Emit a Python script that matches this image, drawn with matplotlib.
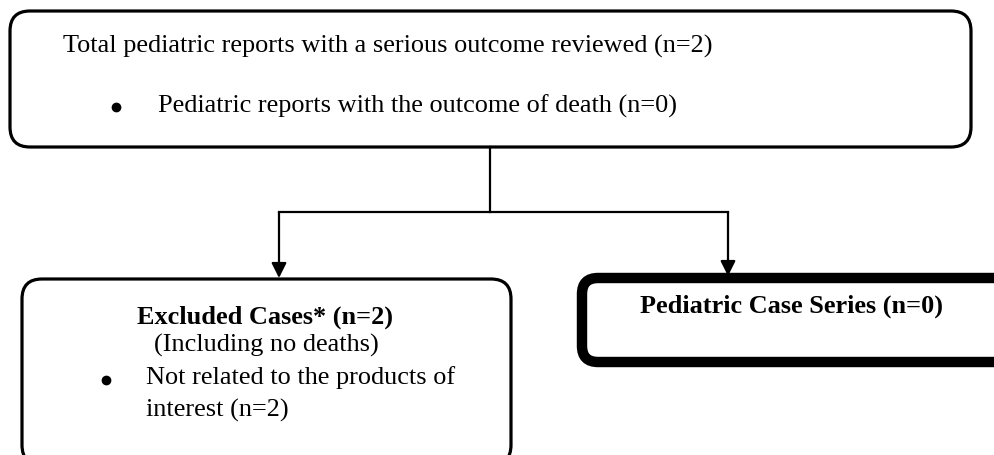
import matplotlib
matplotlib.use("Agg")
import matplotlib.pyplot as plt
from matplotlib.patches import FancyBboxPatch

# box texts
top_title = "Total pediatric reports with a serious outcome reviewed (n=2)"
top_bullet = "Pediatric reports with the outcome of death (n=0)"
excl_title = "Excluded Cases* (n=2)"
excl_sub = "(Including no deaths)"
excl_bullet = ["Not related to the products of", "interest (n=2)"]
series_title = "Pediatric Case Series (n=0)"

FONT = "Liberation Serif"
FS = 18.9

fig = plt.figure(figsize=(9.94, 4.55), dpi=100)
ax = fig.add_axes([0, 0, 1, 1])
ax.set_xlim(0, 994)
ax.set_ylim(455, 0)
ax.axis("off")


def rbox(x0, y0, x1, y1, lw, r=20):
    p = FancyBboxPatch((x0 + r, y0 + r), (x1 - x0) - 2 * r, (y1 - y0) - 2 * r,
                       boxstyle=f"round,pad={r}", fc="white", ec="black",
                       lw=lw, clip_on=False)
    ax.add_patch(p)


# boxes
rbox(10, 11, 971, 147, 2.3)
rbox(22, 279, 511, 465, 2.3)
rbox(582, 278, 1010, 362, 7.5, r=16)

# connector lines
ax.plot([490, 490], [147, 212], color="black", lw=1.6)
ax.plot([279, 728], [212, 212], color="black", lw=1.6, solid_capstyle="projecting")
for x, yend in [(279, 278), (728, 276)]:
    ax.annotate("", xy=(x, yend), xytext=(x, 212),
                arrowprops=dict(arrowstyle="-|>,head_length=0.9,head_width=0.45",
                                color="black", lw=1.6, shrinkA=0, shrinkB=0))

# bullets
for bx, by in [(116, 107), (106, 380)]:
    ax.plot(bx, by, "o", color="black", ms=6)

# top box text
ax.text(63, 46, top_title, family=FONT, fontsize=FS, va="center", ha="left")
ax.text(158, 106, top_bullet, family=FONT, fontsize=FS, va="center", ha="left")

# excluded box text
ax.text(265, 317, excl_title, family=FONT, fontsize=FS, weight="bold",
        va="center", ha="center")
ax.text(266, 345, excl_sub, family=FONT, fontsize=FS, va="center", ha="center")
ax.text(146, 378, excl_bullet[0], family=FONT, fontsize=FS, va="center", ha="left")
ax.text(146, 410, excl_bullet[1], family=FONT, fontsize=FS, va="center", ha="left")

# case series text
ax.text(792, 306, series_title, family=FONT, fontsize=FS, weight="bold",
        va="center", ha="center")

fig.savefig("out.png", dpi=100, facecolor="white")
